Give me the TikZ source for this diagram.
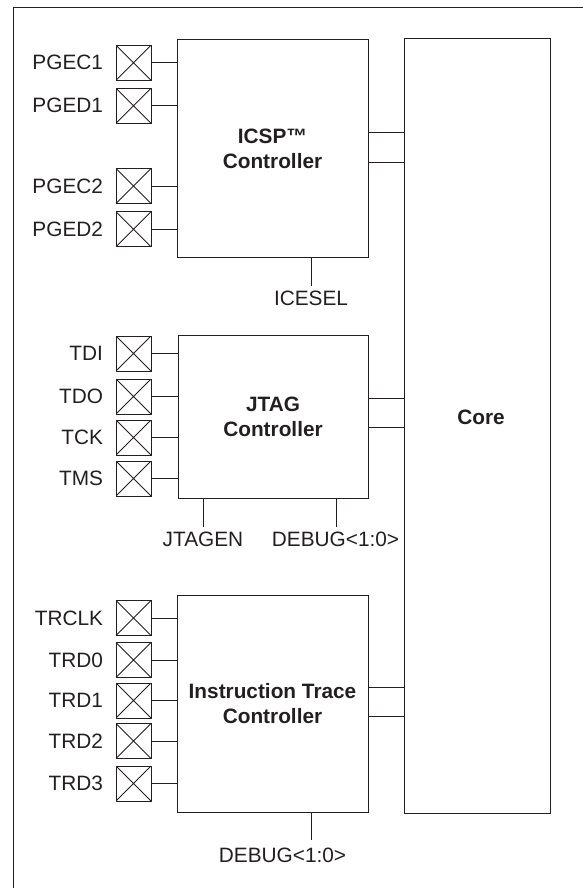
\documentclass[tikz,border=0pt]{standalone}
\usepackage{fontspec}
\setmainfont{Liberation Sans}
\definecolor{ink}{HTML}{231F20}
\begin{document}
\begin{tikzpicture}[x=1pt,y=-1pt,
  line width=1pt, draw=ink, text=ink,
  txt/.style={font=\fontsize{20.8}{25}\selectfont, inner sep=0pt, outer sep=0pt},
  block/.style={draw, inner sep=0pt, outer sep=0pt, align=center,
    font=\fontsize{20.8}{25}\selectfont\bfseries},
  pin/.style={draw, minimum size=35pt, inner sep=0pt, outer sep=0pt,
    path picture={\draw[line width=0.8pt]
      (path picture bounding box.north west) -- (path picture bounding box.south east)
      (path picture bounding box.south west) -- (path picture bounding box.north east);},
    label={[txt, label distance=13pt]left:#1}},
  wire/.style={draw}
]
\useasboundingbox (0,0) rectangle (583,888);
% outer frame
\draw (13,888) -- (13,8) -- (583,8);

% blocks
\node[block, minimum width=191pt, minimum height=217pt] (icsp) at (272.5,148.5) {ICSP™\\Controller};
\node[block, minimum width=190pt, minimum height=163pt] (jtag) at (273,416.5) {JTAG\\Controller};
\node[block, minimum width=191pt, minimum height=217pt] (trace) at (272.5,703.5) {Instruction Trace\\Controller};
\node[block, minimum width=146pt, minimum height=774pt] (core) at (477,426) {};
\node[txt, font=\fontsize{20.8}{25}\selectfont\bfseries, anchor=base] (coretext) at (481,424) {Core};

% pins
\node[pin=PGEC1] (p1) at (133.5,62.7) {};
\node[pin=PGED1] (p2) at (133.5,105.7) {};
\node[pin=PGEC2] (p3) at (133.5,186) {};
\node[pin=PGED2] (p4) at (133.5,229.3) {};
\node[pin=TDI] (j1) at (133.5,353.5) {};
\node[pin=TDO] (j2) at (133.5,396.5) {};
\node[pin=TCK] (j3) at (133.5,437.5) {};
\node[pin=TMS] (j4) at (133.5,478.5) {};
\node[pin=TRCLK] (t1) at (133.5,618) {};
\node[pin=TRD0] (t2) at (133.5,660) {};
\node[pin=TRD1] (t3) at (133.5,700.5) {};
\node[pin=TRD2] (t4) at (133.5,741) {};
\node[pin=TRD3] (t5) at (133.5,783.5) {};

\foreach \p in {p1,p2,p3,p4} \draw (\p.east) -- (\p.east -| icsp.west);
\foreach \p in {j1,j2,j3,j4} \draw (\p.east) -- (\p.east -| jtag.west);
\foreach \p in {t1,t2,t3,t5,t4} \draw (\p.east) -- (\p.east -| trace.west);

% to core
\draw ([yshift=16.5pt]icsp.east) -- ([yshift=16.5pt]icsp.east -| core.west);
\draw ([yshift=-13.5pt]icsp.east) -- ([yshift=-13.5pt]icsp.east -| core.west);
\draw ([yshift=18.5pt]jtag.east) -- ([yshift=18.5pt]jtag.east -| core.west);
\draw ([yshift=-10.5pt]jtag.east) -- ([yshift=-10.5pt]jtag.east -| core.west);
\draw ([yshift=16.5pt]trace.east) -- ([yshift=16.5pt]trace.east -| core.west);
\draw ([yshift=-12.5pt]trace.east) -- ([yshift=-12.5pt]trace.east -| core.west);

% bottom signals
\coordinate (iceEnd) at (311,286);
\draw (iceEnd |- icsp.south) -- (iceEnd);
\node[txt, anchor=base] (icesel) at (311,305) {ICESEL};

\coordinate (jenEnd) at (203,527);
\draw (jenEnd |- jtag.south) -- (jenEnd);
\node[txt, anchor=base] (jtagen) at (203,546) {JTAGEN};

\coordinate (dbgEnd) at (336,527);
\draw (dbgEnd |- jtag.south) -- (dbgEnd);
\node[txt, anchor=base] (dbg1) at (335.5,546) {DEBUG<1:0>};

\coordinate (dbg2End) at (311,840);
\draw (dbg2End |- trace.south) -- (dbg2End);
\node[txt, anchor=base] (dbg2) at (282.5,862) {DEBUG<1:0>};
\end{tikzpicture}
\end{document}
